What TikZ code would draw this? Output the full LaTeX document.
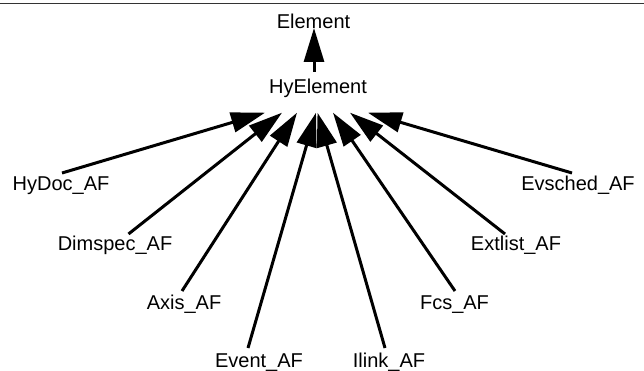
\documentclass[tikz,border=0pt]{standalone}
\usepackage{fontspec}
\setmainfont{Liberation Sans}
\usetikzlibrary{arrows.meta,calc}
\begin{document}
\begin{tikzpicture}[x=1pt,y=-1pt,
  lbl/.style={inner sep=0pt,anchor=base,font=\fontsize{20}{24}\selectfont},
  edge/.style={line width=3pt,-{Triangle[length=34pt,width=20pt]}}]
\useasboundingbox (0,0) rectangle (644,371);
\draw[line width=1.3pt,black!80] (0,3.5) coordinate (rl) -- (644,3.5) coordinate (rr);
\node[lbl] (el) at (313.5,29) {Element};
\node[lbl] (hy) at (318,94) {HyElement};
\node[lbl] (hydoc) at (61,190) {HyDoc\_AF};
\node[lbl] (evsched) at (578,190) {Evsched\_AF};
\node[lbl] (dimspec) at (115,250) {Dimspec\_AF};
\node[lbl] (extlist) at (516,250) {Extlist\_AF};
\node[lbl] (axis) at (184,309) {Axis\_AF};
\node[lbl] (fcs) at (454.5,309) {Fcs\_AF};
\node[lbl] (event) at (259,367) {Event\_AF};
\node[lbl] (ilink) at (389,367) {Ilink\_AF};
\draw[edge] ($(hy.base)+(-4,-22)$) -- ($(el.base)+(0.5,-1)$);
\draw[edge] ($(hydoc.base)+(1,-17)$) -- ($(hy.base)+(-53,18.7)$);
\draw[edge] ($(dimspec.base)+(13.5,-16)$) -- ($(hy.base)+(-36,18.7)$);
\draw[edge] ($(axis.base)+(-2,-18)$) -- ($(hy.base)+(-21,18.7)$);
\draw[edge] ($(event.base)+(-11,-19)$) -- ($(hy.base)+(-2,18.7)$);
\draw[edge] ($(ilink.base)+(-4,-19)$) -- ($(hy.base)+(-0.5,18.7)$);
\draw[edge] ($(fcs.base)+(0.5,-18)$) -- ($(hy.base)+(15,18.7)$);
\draw[edge] ($(extlist.base)+(-11,-16)$) -- ($(hy.base)+(32,18.7)$);
\draw[edge] ($(evsched.base)+(-6,-17)$) -- ($(hy.base)+(50,18.7)$);
\end{tikzpicture}
\end{document}
